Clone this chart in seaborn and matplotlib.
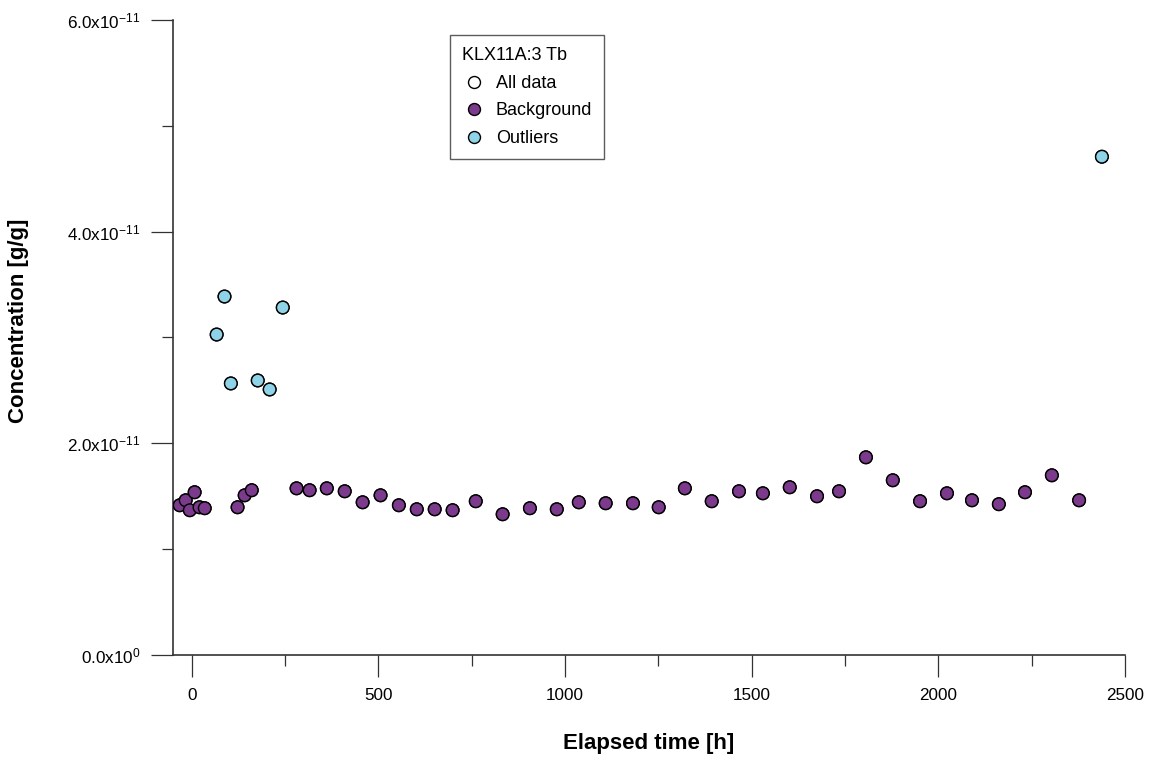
"""
KLX11A:3 Tb - concentration vs elapsed time scatter
"""

import pandas as pd
import matplotlib
matplotlib.use("Agg")
import matplotlib.pyplot as plt
from matplotlib.ticker import MultipleLocator, FuncFormatter
import seaborn as sns

# Background samples: elapsed time [h] and concentration [1e-11 g/g]
bg_time = [-32, -16, -5, 8, 21, 35, 123, 142, 161, 281, 316, 362, 410, 458,
           506, 555, 603, 651, 699, 761, 833, 906, 978, 1037, 1109, 1182,
           1251, 1321, 1393, 1466, 1530, 1602, 1675, 1734, 1806, 1878, 1951,
           2023, 2090, 2162, 2232, 2304, 2377]
bg_conc = [1.415, 1.462, 1.368, 1.538, 1.396, 1.387, 1.396, 1.509, 1.557,
           1.575, 1.557, 1.575, 1.547, 1.443, 1.509, 1.415, 1.377, 1.377,
           1.368, 1.453, 1.330, 1.387, 1.377, 1.443, 1.434, 1.434, 1.396,
           1.575, 1.453, 1.547, 1.528, 1.585, 1.500, 1.547, 1.868, 1.651,
           1.453, 1.528, 1.462, 1.425, 1.538, 1.698, 1.462]

# Outliers
out_time = [67, 88, 105, 177, 209, 244, 2438]
out_conc = [3.028, 3.387, 2.566, 2.594, 2.509, 3.283, 4.708]

y_tick_labels = {0: "0.0x10^{0}", 2: "2.0x10^{-11}", 4: "4.0x10^{-11}", 6: "6.0x10^{-11}"}

PURPLE = "#7B3A8C"
LIGHT_BLUE = "#8ED3E8"


def build_frame():
    all_df = pd.DataFrame({"time": bg_time + out_time,
                           "conc": [c * 1e-11 for c in bg_conc + out_conc],
                           "series": "All data"})
    bg_df = pd.DataFrame({"time": bg_time,
                          "conc": [c * 1e-11 for c in bg_conc],
                          "series": "Background"})
    out_df = pd.DataFrame({"time": out_time,
                           "conc": [c * 1e-11 for c in out_conc],
                           "series": "Outliers"})
    return pd.concat([all_df, bg_df, out_df], ignore_index=True)


def y_fmt(v, pos):
    key = int(round(v / 1e-11))
    if key in y_tick_labels:
        return r"$\mathrm{" + y_tick_labels[key] + "}$"
    return ""


sns.set_style("white")
plt.rcParams["font.family"] = ["Liberation Sans", "DejaVu Sans"]
plt.rcParams["mathtext.fontset"] = "custom"
plt.rcParams["mathtext.rm"] = "Liberation Sans"
plt.rcParams["text.color"] = "black"
plt.rcParams["axes.labelcolor"] = "black"
plt.rcParams["xtick.color"] = "black"
plt.rcParams["ytick.color"] = "black"

df = build_frame()

fig = plt.figure(figsize=(11.54, 7.62), dpi=100)
ax = fig.add_axes([0.1499, 0.1404, 0.8250, 0.8334])

sns.scatterplot(data=df, x="time", y="conc", hue="series",
                hue_order=["All data", "Background", "Outliers"],
                palette={"All data": "white", "Background": PURPLE, "Outliers": LIGHT_BLUE},
                s=82, edgecolor="black", linewidth=1, ax=ax, zorder=3)

ax.set_xlim(-50, 2500)
ax.set_ylim(0, 6e-11)

ax.xaxis.set_major_locator(MultipleLocator(500))
ax.xaxis.set_minor_locator(MultipleLocator(250))
ax.yaxis.set_major_locator(MultipleLocator(2e-11))
ax.yaxis.set_minor_locator(MultipleLocator(1e-11))
ax.yaxis.set_major_formatter(FuncFormatter(y_fmt))
ax.yaxis.get_offset_text().set_visible(False)

ax.tick_params(which="major", direction="out", length=15.5, width=0.9,
               color="#333333", labelsize=12.3, pad=8, labelcolor="black")
ax.tick_params(which="minor", direction="out", length=8, width=0.9, color="#333333")
ax.tick_params(axis="x", which="both", bottom=True)
ax.tick_params(axis="y", which="both", left=True)

for side in ["top", "right"]:
    ax.spines[side].set_visible(False)
for side in ["left", "bottom"]:
    ax.spines[side].set_color("#333333")
    ax.spines[side].set_linewidth(1.2)

ax.set_xlabel("Elapsed time [h]", fontsize=16, fontweight="bold", labelpad=22)
ax.set_ylabel("Concentration [g/g]", fontsize=16, fontweight="bold")
ax.yaxis.set_label_coords(-0.151, 0.527)

leg = ax.legend(title="KLX11A:3 Tb", loc="upper left", bbox_to_anchor=(0.291, 0.976),
                borderaxespad=0, frameon=True, fancybox=False, fontsize=13,
                title_fontsize=13, alignment="left", handlelength=1.3,
                handletextpad=0.55, labelspacing=0.58, borderpad=0.68,
                markerscale=0.95)
leg.get_frame().set_edgecolor("#333333")
leg.get_frame().set_linewidth(1)
for h in leg.legend_handles:
    h.set_markeredgecolor("black")

plt.savefig("out.png", dpi=100)
plt.close()
